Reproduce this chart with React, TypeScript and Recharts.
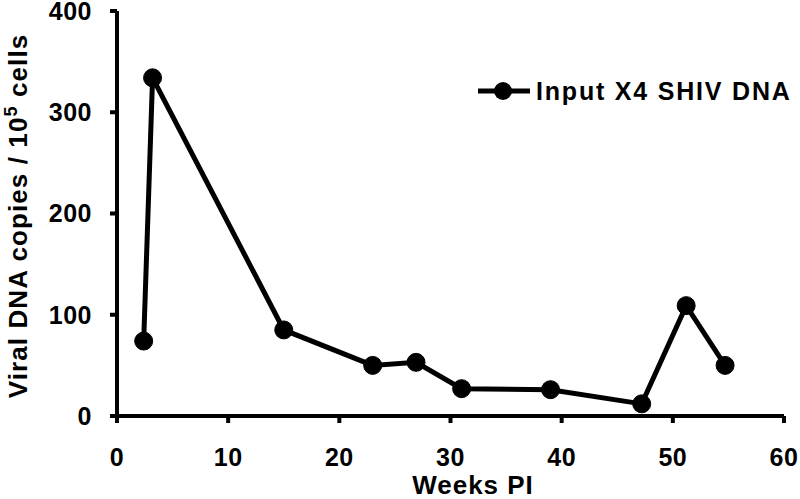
import React from "react";
import {
  LineChart,
  Line,
  XAxis,
  YAxis,
  Legend,
  Label,
} from "recharts";

// weeks post infection
const weeks = [2.4, 3.2, 15, 23, 26.9, 31, 39, 47.2, 51.2, 54.7];
// viral DNA copies per 10^5 cells
const copies = [74, 334, 85, 50, 53, 27, 26, 12, 109, 50];

const xTicks = [0, 10, 20, 30, 40, 50, 60];
const yTicks = [0, 100, 200, 300, 400];

const seriesName = "Input X4 SHIV DNA";

const FONT = '"Liberation Sans", Arial, Helvetica, sans-serif';

const data = weeks.map((w, i) => ({ week: w, copies: copies[i] }));

const LegendBox = () => (
  <div style={{ display: "flex", alignItems: "center", height: 22 }}>
    <svg width={56} height={22}>
      <line x1={2} y1={11} x2={54} y2={11} stroke="#000" strokeWidth={5} />
      <circle cx={27} cy={11} r={9} fill="#000" />
    </svg>
    <span
      style={{
        marginLeft: 4,
        fontFamily: FONT,
        fontWeight: 700,
        fontSize: 25,
        letterSpacing: 1.8,
        lineHeight: "22px",
        color: "#000",
        whiteSpace: "nowrap",
      }}
    >
      {seriesName}
    </span>
  </div>
);

const tickStyle = {
  fontFamily: FONT,
  fontWeight: 700,
  fontSize: 25,
  fill: "#000",
  letterSpacing: 0.5,
};

const App: React.FC = () => {
  return (
    <div style={{ position: "absolute", left: 0, top: 0, background: "#fff" }}>
      <LineChart
        width={800}
        height={499}
        data={data}
        margin={{ top: 11, right: 16, left: 17, bottom: 23 }}
      >
        <XAxis
          type="number"
          dataKey="week"
          domain={[0, 60]}
          ticks={xTicks}
          interval={0}
          height={60}
          axisLine={{ stroke: "#000", strokeWidth: 4 }}
          tickLine={{ stroke: "#000", strokeWidth: 4 }}
          tickSize={7}
          tickMargin={25}
          tick={tickStyle}
        >
          <Label
            content={() => (
              <text
                x={473}
                y={494}
                textAnchor="middle"
                fontFamily={FONT}
                fontWeight={700}
                fontSize={26}
                letterSpacing={1}
                fill="#000"
              >
                Weeks PI
              </text>
            )}
          />
        </XAxis>
        <YAxis
          type="number"
          domain={[0, 400]}
          ticks={yTicks}
          interval={0}
          width={100}
          axisLine={{ stroke: "#000", strokeWidth: 4 }}
          tickLine={{ stroke: "#000", strokeWidth: 4 }}
          tickSize={7}
          tickMargin={18}
          tick={tickStyle}
        >
          <Label
            content={() => (
              <text
                x={27}
                y={216}
                transform="rotate(-90 27 216)"
                textAnchor="middle"
                fontFamily={FONT}
                fontWeight={700}
                fontSize={26}
                letterSpacing={1.1}
                fill="#000"
              >
                Viral DNA copies / 10
                <tspan dy={-10} fontSize={18}>
                  5
                </tspan>
                <tspan dy={10}> cells</tspan>
              </text>
            )}
          />
        </YAxis>
        <Legend
          layout="horizontal"
          verticalAlign="middle"
          align="center"
          content={() => <LegendBox />}
          wrapperStyle={{ top: 80, left: 476, width: "auto" }}
        />
        <Line
          type="linear"
          dataKey="copies"
          name={seriesName}
          stroke="#000"
          strokeWidth={5}
          dot={{ r: 9, fill: "#000", stroke: "#000", strokeWidth: 1 }}
          activeDot={false}
          isAnimationActive={false}
        />
      </LineChart>
    </div>
  );
};

export default App;
